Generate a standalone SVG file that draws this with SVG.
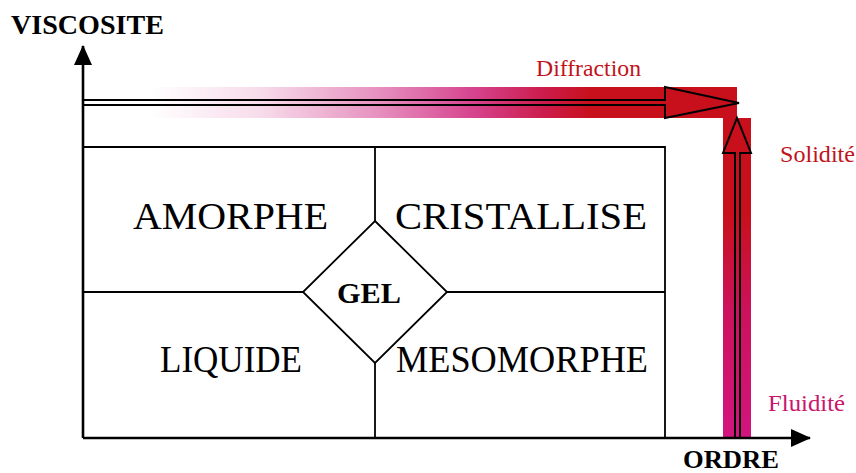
<svg xmlns="http://www.w3.org/2000/svg" width="856" height="473" viewBox="0 0 856 473">
<defs>
<linearGradient id="gh" gradientUnits="userSpaceOnUse" x1="150" y1="0" x2="737" y2="0">
<stop offset="0" stop-color="#ffffff"/>
<stop offset="0.19" stop-color="#f7dbea"/>
<stop offset="0.39" stop-color="#e690bf"/>
<stop offset="0.55" stop-color="#d6448f"/>
<stop offset="0.67" stop-color="#cc1c4c"/>
<stop offset="0.75" stop-color="#c8101c"/>
<stop offset="1" stop-color="#c8101c"/>
</linearGradient>
<linearGradient id="gv" gradientUnits="userSpaceOnUse" x1="0" y1="118" x2="0" y2="438">
<stop offset="0" stop-color="#c8101c"/>
<stop offset="0.3" stop-color="#c8101c"/>
<stop offset="0.6" stop-color="#cc125c"/>
<stop offset="1" stop-color="#d2157f"/>
</linearGradient>
<marker id="ah" viewBox="0 0 20 18" refX="19" refY="9" markerWidth="20" markerHeight="18" markerUnits="userSpaceOnUse" orient="auto">
<path d="M0,0 L20,9 L0,18 Z" fill="#000"/>
</marker>
</defs>
<style>
.ax{stroke:#000;stroke-width:2.6;fill:none}
.bx{stroke:#000;stroke-width:1.8;fill:none}
.ao{stroke:#000;stroke-width:2;fill:none;stroke-linejoin:miter}
.big{font-family:"Liberation Serif","Times New Roman",serif;font-size:38px;fill:#000}
.bold{font-family:"Liberation Serif","Times New Roman",serif;font-weight:bold;fill:#000}
.lbl{font-family:"Liberation Serif","Times New Roman",serif;font-size:23px}
</style>
<rect width="856" height="473" fill="#fff"/>
<g id="bands">
<rect x="150" y="87" width="587" height="31" fill="url(#gh)"/>
<rect x="723" y="118" width="28" height="320" fill="url(#gv)"/>
<rect x="723" y="100" width="14" height="20" fill="#c8101c"/>
</g>
<g id="connectors">
<line class="ax" x1="83" y1="438" x2="83" y2="46" marker-end="url(#ah)"/>
<line class="ax" x1="83" y1="438" x2="810" y2="438" marker-end="url(#ah)"/>
<polyline class="ao" points="84,100 665,100 665,87 739,103 665,118 665,105 84,105"/>
<polyline class="ao" points="735,438 735,153 723,153 737,118 751,153 740,153 740,438"/>
</g>
<g id="box">
<polyline class="bx" points="83,147 665,147 665,438"/>
<line class="bx" x1="375" y1="147" x2="375" y2="221"/>
<line class="bx" x1="375" y1="363" x2="375" y2="438"/>
<line class="bx" x1="83" y1="292" x2="303" y2="292"/>
<line class="bx" x1="447" y1="292" x2="665" y2="292"/>
</g>
<g id="amorphe"><text class="big" x="133" y="229" textLength="195" lengthAdjust="spacingAndGlyphs">AMORPHE</text></g>
<g id="cristallise"><text class="big" x="395" y="229" textLength="252" lengthAdjust="spacingAndGlyphs">CRISTALLISE</text></g>
<g id="liquide"><text class="big" x="160" y="372" textLength="142" lengthAdjust="spacingAndGlyphs">LIQUIDE</text></g>
<g id="mesomorphe"><text class="big" x="396" y="372" textLength="252" lengthAdjust="spacingAndGlyphs">MESOMORPHE</text></g>
<g id="gel">
<polygon class="bx" points="375,221 447,292 375,363 303,292"/>
<text class="bold" x="337" y="303" font-size="30" textLength="64" lengthAdjust="spacingAndGlyphs">GEL</text>
</g>
<g id="axis-labels">
<text class="bold" x="11" y="34" font-size="27" textLength="153" lengthAdjust="spacingAndGlyphs">VISCOSITE</text>
<text class="bold" x="683" y="468" font-size="25" textLength="96" lengthAdjust="spacingAndGlyphs">ORDRE</text>
</g>
<g id="arrow-labels">
<text class="lbl" x="536" y="76" fill="#c0141c" textLength="105" lengthAdjust="spacingAndGlyphs">Diffraction</text>
<text class="lbl" x="780" y="162" fill="#c0141c" textLength="75" lengthAdjust="spacingAndGlyphs">Solidité</text>
<text class="lbl" x="768" y="411" fill="#c8166e" textLength="77" lengthAdjust="spacingAndGlyphs">Fluidité</text>
</g>
</svg>
